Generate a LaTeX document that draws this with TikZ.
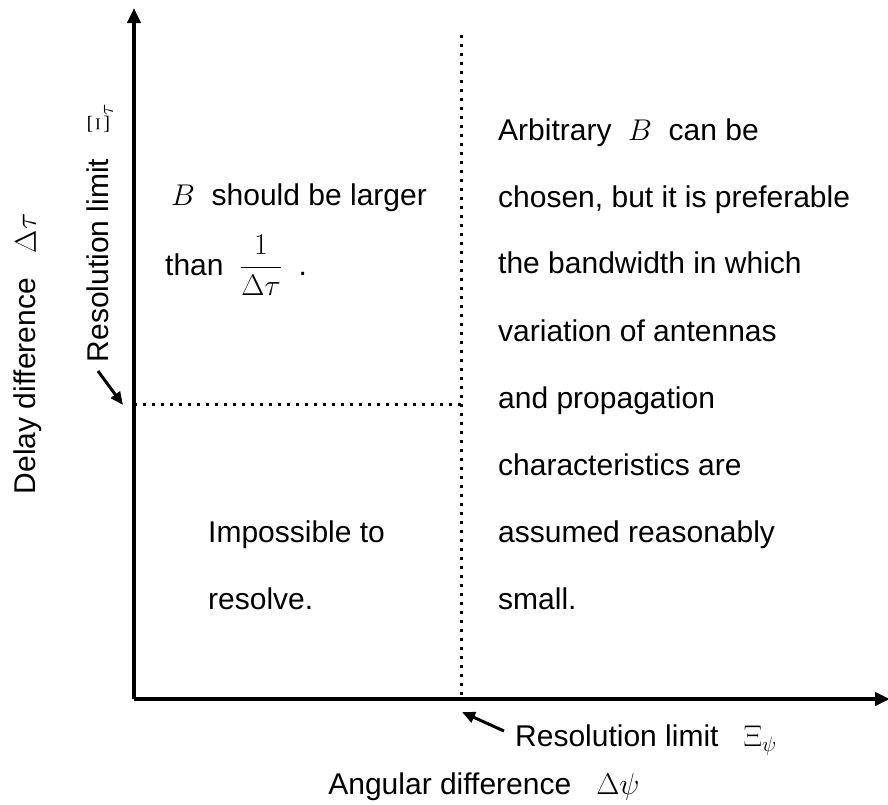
\RequirePackage{fix-cm}
\documentclass[tikz,border=0pt]{standalone}
\usepackage{fontspec}
\setmainfont{Liberation Sans}
\usetikzlibrary{arrows.meta}
\begin{document}
\begin{tikzpicture}[x=1pt,y=-1pt,
  axis/.style={line width=4pt,-{Triangle[length=15pt,width=13pt]}},
  limit/.style={line width=3pt,dash pattern=on 3pt off 6pt},
  pointer/.style={line width=3pt,-{Triangle[length=13pt,width=11pt]}},
  txt/.style={anchor=base west,inner sep=0pt,font=\fontsize{30}{34}\selectfont},
  lbl/.style={inner sep=0pt,font=\fontsize{30}{34}\selectfont}]
\useasboundingbox (0,0) rectangle (888,804);
\coordinate (O) at (134,699);
\coordinate (ytop) at (134,8);
\coordinate (xend) at (890,699);
\coordinate (vtop) at (461,35);
\coordinate (vbot) at (461,699);
\coordinate (hl) at (134,404);
\coordinate (hr) at (461,404);
\draw[limit] (vtop) -- (vbot);
\draw[limit] (hl) -- (hr);
\draw[axis] (O) -- (ytop);
\draw[axis] (O) -- (xend);
% left upper
\node[txt] (l1) at (171,205) {$B$\ \ should be larger};
\node[txt] (l2) at (165,275) {than \ $\displaystyle\frac{1}{\Delta\tau}$\ \ .};
% left lower
\node[txt] (m1) at (208,542) {Impossible to};
\node[txt] (m2) at (208,609) {resolve.};
% right
\node[txt] (r1) at (498,140) {Arbitrary \ $B$\ \ can be};
\node[txt] (r2) at (498,207) {chosen, but it is preferable};
\node[txt] (r3) at (498,273) {the bandwidth in which};
\node[txt] (r4) at (498,341) {variation of antennas};
\node[txt] (r5) at (498,408) {and propagation};
\node[txt] (r6) at (498,475) {characteristics are};
\node[txt] (r7) at (498,542) {assumed reasonably};
\node[txt] (r8) at (498,609) {small.};
% axis labels
\node[lbl,rotate=90] (ylab) at (28,354) {Delay difference \ \ $\Delta\tau$};
\node[lbl,rotate=90] (ylim) at (100,233) {Resolution limit \ \ $\Xi_\tau$};
\node[lbl] (xlab) at (484,787) {Angular difference \ \ $\Delta\psi$};
\node[lbl,anchor=west] (xlim) at (515,740) {Resolution limit \ \ $\Xi_\psi$};
\coordinate (ya) at (98,371);
\coordinate (yb) at (123,405);
\coordinate (xa) at (504,731);
\coordinate (xb) at (462,712);
\draw[pointer] (ya) -- (yb);
\draw[pointer] (xa) -- (xb);
\end{tikzpicture}
\end{document}
